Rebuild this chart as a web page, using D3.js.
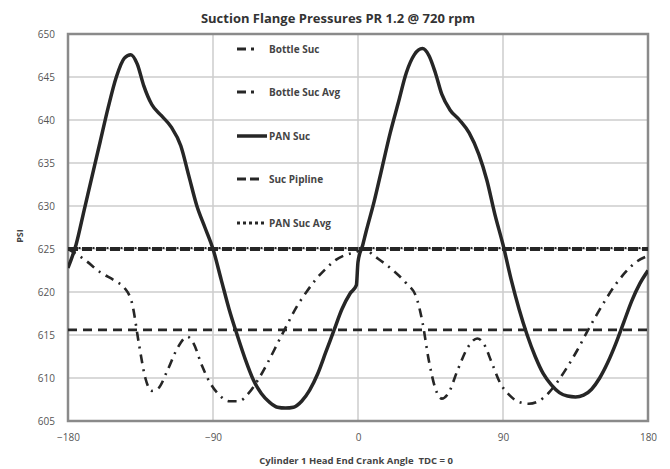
<!DOCTYPE html>
<html><head><meta charset="utf-8">
<script src="https://cdn.jsdelivr.net/npm/d3@7"></script>
<style>
body{margin:0;background:#fff;}
svg{display:block;font-family:"Open Sans","Liberation Sans",sans-serif;}
</style></head>
<body><svg id="c" width="670" height="469"></svg>
<script>
const title = "Suction Flange Pressures PR 1.2 @ 720 rpm";
const xTitle = "Cylinder 1 Head End Crank Angle  TDC = 0";
const yTitle = "PSI";
const xTicks = [-180, -90, 0, 90, 180];
const yTicks = [605, 610, 615, 620, 625, 630, 635, 640, 645, 650];
const seriesNames = ["Bottle Suc", "Bottle Suc Avg", "PAN Suc", "Suc Pipline", "PAN Suc Avg"];

// PAN Suc (solid)
const panAngles = [-180,-175,-170,-165,-160,-155,-150,-145,-141,-137,-133,-128,-122,-116,-110,-105,-100,-95,-90,-85,-80,-75,-70,-65,-60,-55,-50,-45,-40,-35,-30,-25,-20,-15,-10,-5,-1,0,3,5,10,15,20,25,30,35,40,44,48,52,57,63,69,75,80,85,90,95,100,105,110,115,120,125,130,135,140,145,150,155,160,165,170,175,180];
const panValues = [622.8,625.5,629.5,633.5,637.5,641.5,645,647.2,647.6,646.5,644,641.8,640.5,639.2,637,633.5,630,627.5,625,621.5,618,615,612.2,609.8,608.2,607.2,606.6,606.5,606.6,607.3,608.6,610.5,613,615.5,618,619.8,620.8,623.5,625.5,627,630.5,634.5,638.5,642,645.5,647.6,648.3,647.5,645.5,643,641.2,640,638.5,636,633,629,625.5,621.5,618,615,612.5,610.5,609.2,608.3,607.9,607.8,608,608.7,610,611.8,614,616.5,619,621,622.5];

// Bottle Suc (dash-dot)
const bottleAngles = [-180,-170,-160,-150,-145,-140,-136,-132,-128,-124,-118,-112,-106,-102,-97,-92,-86,-80,-74,-68,-62,-56,-50,-44,-38,-32,-26,-20,-14,-8,-2,4,10,20,30,36,40,44,48,52,56,62,68,74,78,83,88,94,100,106,112,118,124,130,136,142,148,154,160,166,172,180];
const bottleValues = [625,623.8,622.3,621.2,620.5,618.5,614,610,608.5,608.8,611,613.5,614.8,614,611.5,609.5,608,607.3,607.3,608.2,609.8,611.8,614,616.2,618.3,620,621.5,622.7,623.7,624.3,624.6,625,624.2,622.8,621,619.5,616.5,612,608.8,607.6,608.2,611,613.5,614.6,614,611.8,609.5,608,607.2,607,607.3,608.2,609.6,611.3,613.2,615.3,617.3,619.2,620.9,622.3,623.4,624.2];

const bottleAvg = 615.6;
const sucPipeline = 625;
const panAvg = 625;

const svg = d3.select("#c");
const m = {l:68, r:648, t:34, b:421};
const x = d3.scaleLinear().domain([-180,180]).range([m.l, m.r]);
const y = d3.scaleLinear().domain([605,650]).range([m.b, m.t]);
const ink = "#262626";

// grid
svg.append("g").selectAll("line.h").data(yTicks).join("line")
  .attr("x1", m.l).attr("x2", m.r).attr("y1", d=>y(d)).attr("y2", d=>y(d))
  .attr("stroke", "#cccccc").attr("stroke-width", 1.5);
svg.append("g").selectAll("line.v").data(xTicks.slice(1,-1)).join("line")
  .attr("y1", m.t).attr("y2", m.b).attr("x1", d=>x(d)).attr("x2", d=>x(d))
  .attr("stroke", "#cccccc").attr("stroke-width", 1.5);

// axes
const xAxis = svg.append("g").attr("transform", `translate(0,${m.b})`)
  .call(d3.axisBottom(x).tickValues(xTicks).tickSize(0).tickPadding(13));
const yAxis = svg.append("g").attr("transform", `translate(${m.l},0)`)
  .call(d3.axisLeft(y).tickValues(yTicks).tickSize(0).tickPadding(13));
[xAxis, yAxis].forEach(a => {
  a.select(".domain").remove();
  a.selectAll("text").attr("font-size", 10).attr("fill", "#555").attr("font-family", "'Open Sans',sans-serif");
});

// frame
svg.append("rect").attr("x", m.l).attr("y", m.t).attr("width", m.r-m.l).attr("height", m.b-m.t)
  .attr("fill", "none").attr("stroke", "#8a8a8a").attr("stroke-width", 2.5);

const line = d3.line().x(d=>x(d[0])).y(d=>y(d[1])).curve(d3.curveMonotoneX);
svg.append("clipPath").attr("id","cp").append("rect")
  .attr("x", m.l).attr("y", m.t).attr("width", m.r-m.l).attr("height", m.b-m.t);
const plot = svg.append("g").attr("clip-path", "url(#cp)");

// Bottle Suc Avg
plot.append("line").attr("x1", m.l).attr("x2", m.r).attr("y1", y(bottleAvg)).attr("y2", y(bottleAvg))
  .attr("stroke", ink).attr("stroke-width", 2.6).attr("stroke-dasharray", "9,6");
// Suc Pipline
plot.append("line").attr("x1", m.l).attr("x2", m.r).attr("y1", y(sucPipeline)).attr("y2", y(sucPipeline))
  .attr("stroke", ink).attr("stroke-width", 4).attr("stroke-dasharray", "10,4");
// PAN Suc Avg
plot.append("line").attr("x1", m.l).attr("x2", m.r).attr("y1", y(panAvg)-1).attr("y2", y(panAvg)-1)
  .attr("stroke", ink).attr("stroke-width", 2).attr("stroke-dasharray", "2,1.5");

// Bottle Suc
plot.append("path").datum(d3.zip(bottleAngles, bottleValues)).attr("d", line)
  .attr("fill", "none").attr("stroke", ink).attr("stroke-width", 2.6)
  .attr("stroke-dasharray", "9,6,2,6");
// PAN Suc
plot.append("path").datum(d3.zip(panAngles, panValues)).attr("d", line)
  .attr("fill", "none").attr("stroke", ink).attr("stroke-width", 3.5).attr("stroke-linejoin","round");

// legend
const legY = [49, 92, 136, 179, 223];
const dashes = ["9,5,3,20", "9,5,3,20", null, "9,4,9,20", "3,3"];
const widths = [3, 3, 3.5, 3, 3];
const lg = svg.append("g");
seriesNames.forEach((n,i) => {
  const g = lg.append("g").attr("transform", `translate(0,${legY[i]})`);
  g.append("line").attr("x1", 237).attr("x2", 267).attr("y1", 0).attr("y2", 0)
    .attr("stroke", ink).attr("stroke-width", widths[i]).attr("stroke-dasharray", dashes[i]);
  g.append("text").attr("x", 269).attr("y", 0).attr("dy", "0.35em").text(n)
    .attr("font-size", 10).attr("font-weight", "bold").attr("fill", "#444");
});

// titles
svg.append("text").attr("x", 338).attr("y", 23).attr("text-anchor", "middle")
  .attr("font-size", 13).attr("font-weight", "bold").attr("fill", "#333").text(title);
svg.append("text").attr("x", 356).attr("y", 464).attr("text-anchor", "middle")
  .style("white-space", "pre")
  .attr("font-size", 9.5).attr("font-weight", "bold").attr("fill", "#444").text(xTitle);
svg.append("text").attr("transform", "translate(23,236) rotate(-90)").attr("text-anchor", "middle")
  .attr("font-size", 9).attr("font-weight", "bold").attr("fill", "#444").text(yTitle);
</script></body></html>
